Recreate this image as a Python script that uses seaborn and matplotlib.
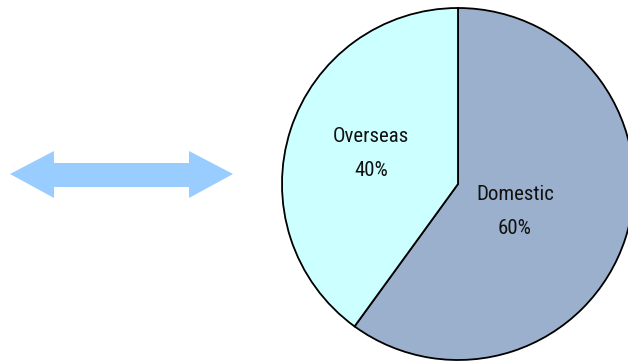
import matplotlib
matplotlib.use("Agg")
import matplotlib.pyplot as plt
from matplotlib.patches import Polygon
import seaborn as sns

# Sales split
categories = ["Domestic", "Overseas"]
shares = [60, 40]
colors = ["#9BB0CC", "#CCFFFF"]

sns.set_theme(style="white")
plt.rcParams["font.family"] = ["Roboto Condensed", "Liberation Sans", "DejaVu Sans"]

W, H = 628, 362
fig = plt.figure(figsize=(W / 100, H / 100), dpi=100)
ax = fig.add_axes([0, 0, 1, 1])

cx, cy, r = 458, 362 - 184, 176
wedges, _ = ax.pie(
    shares,
    colors=colors,
    startangle=90,
    counterclock=False,
    center=(cx, cy),
    radius=r,
    frame=True,
    wedgeprops=dict(edgecolor="black", linewidth=1.3),
)
ax.set_xlim(0, W)
ax.set_ylim(0, H)
ax.set_aspect("equal")
ax.axis("off")

# label positions inside each wedge
label_pos = {"Domestic": (515, 362 - 194), "Overseas": (371, 362 - 137)}
for name, val in zip(categories, shares):
    x, y = label_pos[name]
    ax.text(x, y, name, ha="center", va="center", fontsize=15,
            color="#111111")
    ax.text(x, y - 34, f"{val}%", ha="center", va="center", fontsize=15,
            color="#111111")

# double-headed arrow on the left
ym = 362 - 174
arrow = Polygon(
    [
        (10, ym), (54, ym + 23), (54, ym + 11), (189, ym + 11), (189, ym + 23),
        (233, ym), (189, ym - 24), (189, ym - 13), (54, ym - 13), (54, ym - 24),
    ],
    closed=True, facecolor="#99CCFF", edgecolor="none",
)
ax.add_patch(arrow)

fig.savefig("out.png", dpi=100, facecolor="white")
